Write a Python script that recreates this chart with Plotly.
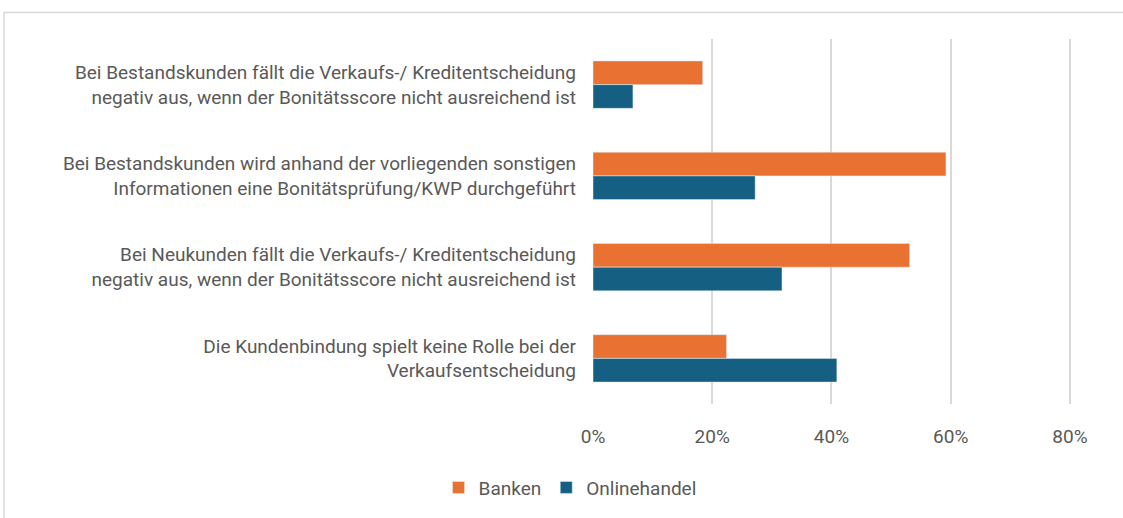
import plotly.graph_objects as go

categories = [
    "Bei Bestandskunden fällt die Verkaufs-/ Kreditentscheidung<br>negativ aus, wenn der Bonitätsscore nicht ausreichend ist",
    "Bei Bestandskunden wird anhand der vorliegenden sonstigen<br>Informationen eine Bonitätsprüfung/KWP durchgeführt",
    "Bei Neukunden fällt die Verkaufs-/ Kreditentscheidung<br>negativ aus, wenn der Bonitätsscore nicht ausreichend ist",
    "Die Kundenbindung spielt keine Rolle bei der<br>Verkaufsentscheidung",
]
banken = [0.184, 0.592, 0.531, 0.224]
onlinehandel = [0.067, 0.272, 0.317, 0.409]
x_ticks = [0, 0.2, 0.4, 0.6, 0.8]
x_tick_labels = ["0%", "20%", "40%", "60%", "80%"]

fig = go.Figure()
fig.add_trace(go.Bar(y=categories, x=banken, name="Banken", orientation="h",
                     marker=dict(color="#E97132")))
fig.add_trace(go.Bar(y=categories, x=onlinehandel, name="Onlinehandel", orientation="h",
                     marker=dict(color="#156082")))

fig.update_layout(
    width=1123, height=518,
    margin=dict(l=593, r=52, t=39, b=107),
    barmode="group", bargap=0.48, bargroupgap=0,
    paper_bgcolor="white", plot_bgcolor="white",
    font=dict(family="Roboto", size=19, color="#595959"),
    legend=dict(orientation="h", x=-0.048, xanchor="center", y=-0.229, yanchor="middle",
                font=dict(size=19, color="#595959"), traceorder="normal"),
    xaxis=dict(range=[0, 0.8017], tickvals=x_ticks, ticktext=x_tick_labels,
               showgrid=True, gridcolor="#d9d9d9", gridwidth=1.5, zeroline=False,
               showline=False, ticks="", ticklabelstandoff=19,
               tickfont=dict(size=19)),
    yaxis=dict(autorange="reversed", showgrid=False, zeroline=False, showline=False,
               ticks="", ticklabelstandoff=16, tickfont=dict(size=19)),
    shapes=[dict(type="rect", xref="paper", yref="paper",
                 x0=(4 - 593) / 478, x1=(1135 - 593) / 478,
                 y0=(411 - 530) / 372, y1=(411 - 12) / 372,
                 line=dict(color="#d9d9d9", width=1.5), fillcolor="rgba(0,0,0,0)",
                 layer="below")],
)

fig.write_html("out.html", config={"displayModeBar": False},
               post_script="document.body.style.margin='0';document.body.style.overflow='hidden';")
